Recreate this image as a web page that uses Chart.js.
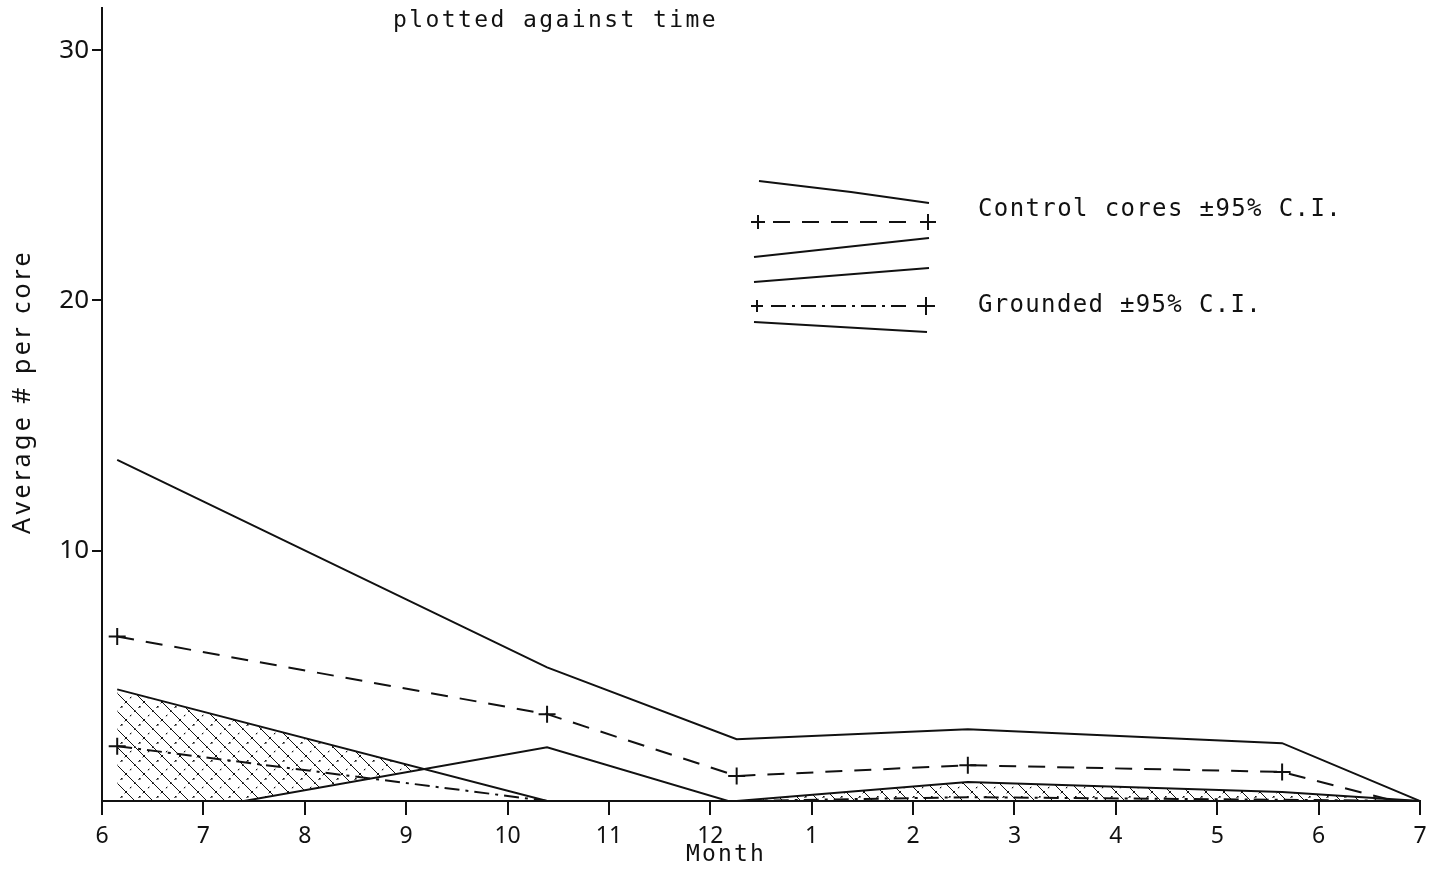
<!DOCTYPE html>
<html><head><meta charset="utf-8">
<script src="https://cdn.jsdelivr.net/npm/chart.js@4.4.1/dist/chart.umd.min.js"></script>
<style>html,body{margin:0;padding:0;background:#fff;} canvas{display:block;}</style>
</head><body>
<canvas id="c" width="1443" height="869"></canvas>
<script>
// ---- data ----
const xTickLabels = ['6','7','8','9','10','11','12','1','2','3','4','5','6','7'];
const yTickValues = [10, 20, 30];
const sampleX      = [0.15, 4.39, 6.26, 8.54, 11.64, 13.0];
const controlMeanX = [0.15, 4.39, 6.26, 8.54, 11.64, 12.75];
const controlUpper  = [13.63, 5.34, 2.47, 2.87, 2.31, 0];
const controlMean   = [6.57, 3.47, 1.00, 1.43, 1.16, 0];
const controlLower  = [-0.9, 2.15, -0.1, 0, 0, 0];
const groundedUpper = [4.46, 0, 0, 0.76, 0.36, 0];
const groundedMean  = [2.19, 0, 0, 0.15, 0.05, 0];
const groundedLower = [0, 0, 0, 0, 0, 0];
const controlMeanMarks  = [1, 1, 1, 1, 1, 0];
const groundedMeanMarks = [1, 0, 0, 0, 0, 0];

const titleText = 'plotted against time';
const yTitle = 'Average # per core';
const xTitle = 'Month';
const legendControl = 'Control cores \u00B195% C.I.';
const legendGrounded = 'Grounded \u00B195% C.I.';

// ---- styles ----
const INK = '#111';
const DASH = [17, 12];
const DASHDOT = [15, 6, 3, 6];
const CROSS_R = 8.5;

function pts(xs, ys) { return ys.map((y, i) => ({x: xs[i], y: y})); }

function makeHatch() {
  const c = document.createElement('canvas');
  c.width = 18; c.height = 18;
  const g = c.getContext('2d');
  g.strokeStyle = INK; g.lineWidth = 1;
  g.beginPath(); g.moveTo(0, 0); g.lineTo(18, 18); g.stroke();
  g.setLineDash([2, 4]);
  g.beginPath(); g.moveTo(18, 0); g.lineTo(0, 18); g.stroke();
  g.fillStyle = INK;
  g.fillRect(13, 4, 1.6, 1.6);
  g.fillRect(4, 13, 1.2, 1.2);
  return g.createPattern(c, 'repeat');
}

function fitText(ctx, text, x, y, width, font, baseline) {
  ctx.save();
  ctx.font = font;
  ctx.letterSpacing = '0px';
  const w = ctx.measureText(text).width;
  const ls = (width - w) / text.length;
  ctx.letterSpacing = ls.toFixed(2) + 'px';
  ctx.fillStyle = INK;
  ctx.textAlign = 'left';
  ctx.textBaseline = baseline || 'alphabetic';
  ctx.fillText(text, x, y);
  ctx.restore();
}

function cross(ctx, x, y, r) {
  ctx.beginPath();
  ctx.moveTo(x - r, y); ctx.lineTo(x + r, y);
  ctx.moveTo(x, y - r); ctx.lineTo(x, y + r);
  ctx.stroke();
}

function poly(ctx, p, dash) {
  ctx.save();
  ctx.setLineDash(dash || []);
  ctx.beginPath();
  ctx.moveTo(p[0][0], p[0][1]);
  for (let i = 1; i < p.length; i++) ctx.lineTo(p[i][0], p[i][1]);
  ctx.stroke();
  ctx.restore();
}

const decorations = {
  id: 'decorations',
  afterDraw(chart) {
    const ctx = chart.ctx;
    ctx.save();
    ctx.strokeStyle = INK;
    ctx.lineWidth = 2;
    // title
    fitText(ctx, titleText, 393, 27, 325, '23px "DejaVu Sans Mono"');
    // x title
    fitText(ctx, xTitle, 686, 861, 80, '23px "DejaVu Sans Mono"');
    // y title (rotated)
    ctx.save();
    ctx.translate(23, 392);
    ctx.rotate(-Math.PI / 2);
    fitText(ctx, yTitle, -142, 0, 285, '25px "Noto Sans"', 'middle');
    ctx.restore();
    // legend samples
    poly(ctx, [[759, 181], [851, 192], [929, 203]]);
    poly(ctx, [[773, 222], [914, 222]], DASH);
    cross(ctx, 758, 222, 7); cross(ctx, 928, 222, 8);
    poly(ctx, [[754, 257], [929, 238]]);
    poly(ctx, [[754, 282], [929, 268]]);
    poly(ctx, [[771, 306], [912, 306]], DASHDOT);
    cross(ctx, 757, 306, 6); cross(ctx, 926, 306, 9);
    poly(ctx, [[754, 322], [927, 332]]);
    fitText(ctx, legendControl, 978, 210, 364, '24px "DejaVu Sans Mono"', 'middle');
    fitText(ctx, legendGrounded, 978, 306, 284, '24px "DejaVu Sans Mono"', 'middle');
    ctx.restore();
  }
};

const hatch = makeHatch();

function lineDs(label, data, extra) {
  return Object.assign({
    label: label,
    data: data,
    borderColor: INK,
    borderWidth: 2,
    pointRadius: 0,
    pointHoverRadius: 0,
    fill: false,
    tension: 0,
    clip: 0
  }, extra || {});
}

new Chart(document.getElementById('c'), {
  type: 'line',
  data: {
    datasets: [
      lineDs('Control upper 95% C.I.', pts(sampleX, controlUpper)),
      lineDs('Control cores', pts(controlMeanX, controlMean), {
        borderDash: DASH,
        pointStyle: 'cross',
        pointRadius: controlMeanMarks.map(m => m * CROSS_R),
        pointBorderColor: INK,
        pointBorderWidth: 2
      }),
      lineDs('Control lower 95% C.I.', pts(sampleX, controlLower)),
      lineDs('Grounded upper 95% C.I.', pts(sampleX, groundedUpper), {
        fill: {target: 2, above: hatch, below: 'rgba(0,0,0,0)'}
      }),
      lineDs('Grounded', pts(sampleX, groundedMean), {
        borderDash: DASHDOT,
        pointStyle: 'cross',
        pointRadius: groundedMeanMarks.map(m => m * CROSS_R),
        pointBorderColor: INK,
        pointBorderWidth: 2
      }),
      lineDs('Grounded lower 95% C.I.', pts(sampleX, groundedLower))
    ]
  },
  options: {
    responsive: false,
    devicePixelRatio: 1,
    animation: false,
    events: [],
    layout: {autoPadding: false, padding: {top: 5, right: 23, bottom: 0, left: 0}},
    plugins: {legend: {display: false}, tooltip: {enabled: false}, title: {display: false}},
    scales: {
      x: {
        type: 'linear',
        min: 0,
        max: xTickLabels.length - 1,
        afterFit(s) { s.height = 68; },
        grid: {drawOnChartArea: false, drawTicks: true, tickLength: 14, color: INK, lineWidth: 2},
        border: {display: true, color: INK, width: 2},
        ticks: {
          stepSize: 1,
          autoSkip: false,
          maxRotation: 0,
          padding: 8,
          color: INK,
          font: {family: 'Noto Sans', size: 23},
          callback: v => xTickLabels[v]
        }
      },
      y: {
        type: 'linear',
        min: 0,
        max: 31.7,
        afterFit(s) { s.width = 102; },
        afterBuildTicks(s) { s.ticks = yTickValues.map(v => ({value: v})); },
        grid: {drawOnChartArea: false, drawTicks: true, tickLength: 10, color: INK, lineWidth: 2},
        border: {display: true, color: INK, width: 2},
        ticks: {
          padding: 3,
          color: INK,
          font: {family: 'Noto Sans', size: 26, lineHeight: 0.35},
          callback: v => String(v)
        }
      }
    }
  },
  plugins: [decorations]
});
</script>
</body></html>
